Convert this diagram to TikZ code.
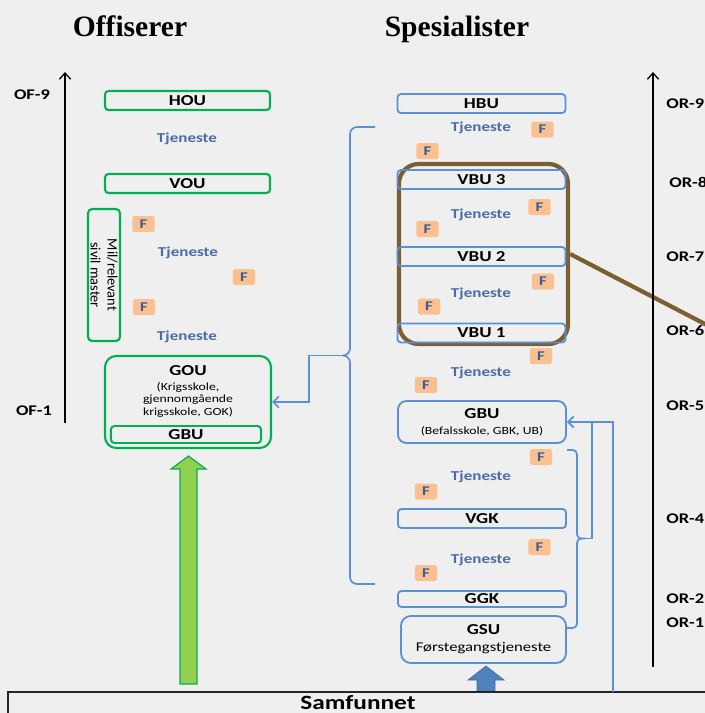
\documentclass[tikz,border=0pt]{standalone}
\usepackage{fontspec}
\setmainfont{Carlito}[FakeStretch=1.25]
\newfontfamily\plainfont{Carlito}
\newfontfamily\titlefont{Liberation Serif}
\usepackage{tikz}
\usetikzlibrary{positioning, arrows.meta, calc}

\definecolor{paper}{HTML}{EFEFEF}
\definecolor{offgreen}{HTML}{00B050}
\definecolor{arrowgreen}{HTML}{92D050}
\definecolor{spesblue}{HTML}{5B8FD6}
\definecolor{tjenblue}{HTML}{4A6CA8}
\definecolor{ftext}{HTML}{3B5C9A}
\definecolor{fpeach}{HTML}{FAC090}
\definecolor{vbubrown}{HTML}{7B5F30}
\definecolor{gsublue}{HTML}{4F81BD}
\definecolor{gsuedge}{HTML}{41719C}
\definecolor{samfedge}{HTML}{262626}

\begin{document}
\begin{tikzpicture}[x=0.025cm, y=-0.025cm,
        % Define block styles
        offbox/.style={draw=offgreen, line width=1.5pt, rounded corners=2.5pt, minimum width=4.125cm, minimum height=0.475cm, inner sep=0pt, font=\bfseries\fontsize{10.8}{12}\selectfont},
        spesbox/.style={draw=spesblue, line width=1.3pt, rounded corners=2.5pt, minimum width=4.2cm, minimum height=0.475cm, inner sep=0pt, font=\bfseries\fontsize{10.8}{12}\selectfont},
        tjeneste/.style={text=tjenblue, inner sep=0pt, font=\bfseries\fontsize{9.7}{11}\selectfont},
        ftag/.style={fill=fpeach, rounded corners=1.5pt, minimum width=0.55cm, minimum height=0.4cm, inner sep=0pt, text=ftext, font=\bfseries\fontsize{9.5}{11}\selectfont},
        ranklabel/.style={inner sep=0pt, font=\bfseries\fontsize{10.5}{12}\selectfont},
        headline/.style={inner sep=0pt, anchor=base, font=\titlefont\bfseries\fontsize{21}{24}\selectfont},
        rankaxis/.style={draw=black, line width=0.9pt, -{Straight Barb[length=4.5pt,width=8pt]}},
        link/.style={draw=spesblue, line width=1.2pt, -{Straight Barb[length=4pt,width=8pt]}},
        linkline/.style={draw=spesblue, line width=1.2pt}
    ]

    \fill[paper] (0,0) rectangle (705,713);
    \useasboundingbox (0,0) rectangle (705,713);

    % --- Titles ---
    \node[headline] (offtitle) at (130,36) {Offiserer};
    \node[headline] (spestitle) at (457,36) {Spesialister};

    % --- Officer column ---
    \node[offbox] (hou) at (187.5,100.5) {HOU};
    \node[tjeneste] (tjhou) at (187,139) {Tjeneste};
    \node[offbox] (vou) at (187.5,183.5) {VOU};

    \node[offbox, rotate=-90, minimum width=3.3cm, minimum height=0.8cm, rounded corners=3pt, align=center, font=\plainfont\fontsize{10.2}{12}\selectfont] (milmaster) at (104,275) {Mil/relevant\\sivil master};
    \node[tjeneste] (tjvou) at (188,253) {Tjeneste};
    \node[tjeneste] (tjgou) at (187,337) {Tjeneste};

    \node[offbox, minimum width=4.15cm, minimum height=2.3cm, rounded corners=8pt] (gou) at (188,402) {};
    \node[below=7pt of gou.north, inner sep=0pt, font=\bfseries\fontsize{10.8}{12}\selectfont] (goutitle) {GOU};
    \node[below=4.5pt of goutitle, inner sep=0pt, align=center, font=\fontsize{7.8}{9.2}\selectfont] (goutext) {(Krigsskole,\\gjennomgående\\krigsskole, GOK)};
    \node[offbox, minimum width=3.75cm, minimum height=0.425cm, line width=1.4pt] (goubu) at (186,434.5) {GBU};

    % green arrow from Samfunnet up to GOU
    \draw[draw=offgreen, fill=arrowgreen, line width=0.8pt] (180,684) -- (180,469) -- (171,469) -- (188.5,456) -- (206,469) -- (197,469) -- (197,684) -- cycle;

    % --- Specialist column ---
    % frame round the VBU levels, with its pointer line
    \node[draw=vbubrown, line width=3pt, rounded corners=14pt, minimum width=4.225cm, minimum height=4.5cm, inner sep=0pt] (vbuframe) at (483.5,254) {};
    \coordinate (vbuzoom) at (730,337);
    \draw[vbubrown, line width=3pt] (vbuframe.east) -- (vbuzoom);

    \node[spesbox] (hbu) at (481.5,103.5) {HBU};
    \node[spesbox] (vbu3) at (481.5,179.5) {VBU 3};
    \node[spesbox] (vbu2) at (481.5,256.5) {VBU 2};
    \node[spesbox] (vbu1) at (481.5,333) {VBU 1};
    \node[spesbox, minimum height=1.05cm, rounded corners=6pt, align=center, font=\bfseries\fontsize{10.8}{11.5}\selectfont] (gbu) at (482,422) {GBU\\{\mdseries\fontsize{7.8}{9}\selectfont (Befalsskole, GBK, UB)}};
    \node[spesbox] (vgk) at (482,518.5) {VGK};
    \node[spesbox, minimum height=0.4cm] (ggk) at (482,599) {GGK};
    \node[spesbox, minimum width=4.125cm, minimum height=1.175cm, rounded corners=7pt, align=center, font=\bfseries\fontsize{10.8}{12}\selectfont] (gsu) at (483.5,639.5) {GSU\\{\mdseries\fontsize{9.5}{11}\selectfont Førstegangstjeneste}};

    \foreach \tx/\ty [count=\tk] in {481/128, 481/215, 481/294, 481/373, 481/477, 481/560}
        \node[tjeneste] (tjspes\tk) at (\tx,\ty) {Tjeneste};

    % F markers
    \foreach \fx/\fy [count=\fk] in {143.5/224, 244/277, 144/307, 542.5/129.5, 427.5/151, 539.5/207, 427.5/229, 543/281.5, 429/306.5, 541/356, 426/385, 541/457, 426/491.5, 539.5/547, 426/573}
        \node[ftag] (f\fk) at (\fx,\fy) {F};

    % blue arrow from Samfunnet up to GSU
    \draw[draw=gsuedge, fill=gsublue, line width=0.5pt] (477,691) -- (477,680) -- (468,680) -- (486,666) -- (504,680) -- (495,680) -- (495,691) -- cycle;

    % --- Samfunnet ---
    \node[draw=samfedge, line width=1.5pt, minimum width=17.5cm, minimum height=0.75cm, inner sep=0pt, text depth=6pt, font=\bfseries\fontsize{14.4}{16}\selectfont] (samf) at (358,707) {Samfunnet};

    % --- Rank axes ---
    \coordinate (ofbot) at (65,423);
    \coordinate (oftop) at (65,72);
    \draw[rankaxis] (ofbot) -- (oftop);
    \node[ranklabel] (of9) at (32,95) {OF-9};
    \node[ranklabel] (of1) at (34,411) {OF-1};

    \coordinate (orbot) at (653,667);
    \coordinate (ortop) at (653,72);
    \draw[rankaxis] (orbot) -- (ortop);
    \foreach \lbl/\lx/\ly in {OR-9/666/104, OR-8/669/182, OR-7/666/257, OR-6/666/331, OR-5/666/406, OR-4/666/519, OR-2/666/599, OR-1/666/623}
        \node[ranklabel, anchor=west] (rank\lbl) at (\lx,\ly) {\lbl};

    % --- Connections ---
    % brace over the specialist levels, led to GOU
    \coordinate (spesbrace) at (344,355.5);
    \draw[linkline, rounded corners=5pt] (375,127) -- (350,127) -- (350,355.5) -- (spesbrace);
    \draw[linkline, rounded corners=5pt] (spesbrace) -- (350,355.5) -- (350,584) -- (375,584);
    \draw[link] (spesbrace) -- ++(-35,0) |- (gou.east);

    % bracket over VGK, GGK and GSU, led to GBU
    \coordinate (grunnbrace) at (581,538.5);
    \draw[linkline, rounded corners=3pt] (567,450) -- (577,450) -- (577,538.5) -- (grunnbrace);
    \draw[linkline, rounded corners=3pt] (grunnbrace) -- (577,538.5) -- (577,628) -- (567,628);
    \draw[linkline] (grunnbrace) -| ($(gbu.east)+(25,0)$);

    % line from Samfunnet to GBU
    \coordinate (samftap) at (613,692);
    \draw[link] (samftap) |- (gbu.east);

\end{tikzpicture}
\end{document}
